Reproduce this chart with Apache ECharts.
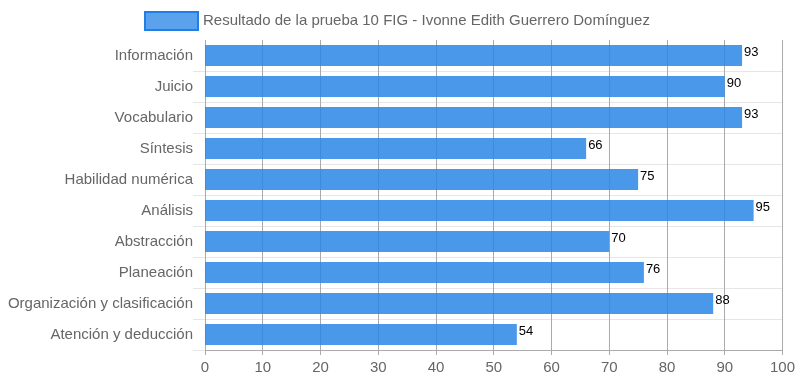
<!DOCTYPE html>
<html>
<head>
<meta charset="utf-8">
<script src="https://cdn.jsdelivr.net/npm/echarts@6/dist/echarts.min.js"></script>
<style>html,body{margin:0;padding:0;background:#fff}#c{width:798px;height:385px}</style>
</head>
<body>
<div id="c"></div>
<script>
const categories = ["Información","Juicio","Vocabulario","Síntesis","Habilidad numérica","Análisis","Abstracción","Planeación","Organización y clasificación","Atención y deducción"];
const values = [93,90,93,66,75,95,70,76,88,54];
const seriesName = "Resultado de la prueba 10 FIG - Ivonne Edith Guerrero Domínguez";

const chart = echarts.init(document.getElementById('c'));
chart.setOption({
  animation: false,
  textStyle: {fontFamily: '"Liberation Sans", Arial, sans-serif'},
  legend: {
    left: 139, top: 6,
    icon: 'rect',
    itemWidth: 53, itemHeight: 18,
    data: [{name: seriesName, itemStyle: {color: '#5aa2ec', borderColor: '#1f7fe6', borderWidth: 2}}],
    textStyle: {color: '#666', fontSize: 15}
  },
  grid: {left: 205, right: 15, top: 40, bottom: 35, containLabel: false},
  xAxis: {
    type: 'value', min: 0, max: 100, interval: 10,
    axisLine: {show: true, lineStyle: {color: '#aaa'}},
    axisTick: {show: true, length: 5, lineStyle: {color: '#aaa'}},
    splitLine: {show: true, lineStyle: {color: '#aaa'}},
    axisLabel: {color: '#666', fontSize: 15, margin: 10}
  },
  yAxis: {
    type: 'category', data: categories, inverse: true,
    axisLine: {show: false},
    axisTick: {show: true, length: 12, interval: function(i){ return i > 0 && i < categories.length; }, lineStyle: {color: '#e6e6e6'}},
    splitLine: {show: true, showMinLine: false, showMaxLine: false, lineStyle: {color: '#e6e6e6'}},
    axisLabel: {color: '#666', fontSize: 15, margin: 12}
  },
  series: [{
    name: seriesName, type: 'bar', data: values,
    barCategoryGap: '32%',
    itemStyle: {color: 'rgba(42,134,229,0.85)'},
    label: {show: true, position: 'right', distance: 2, offset: [0, -3], color: '#000', fontSize: 13}
  }]
});
</script>
</body>
</html>
